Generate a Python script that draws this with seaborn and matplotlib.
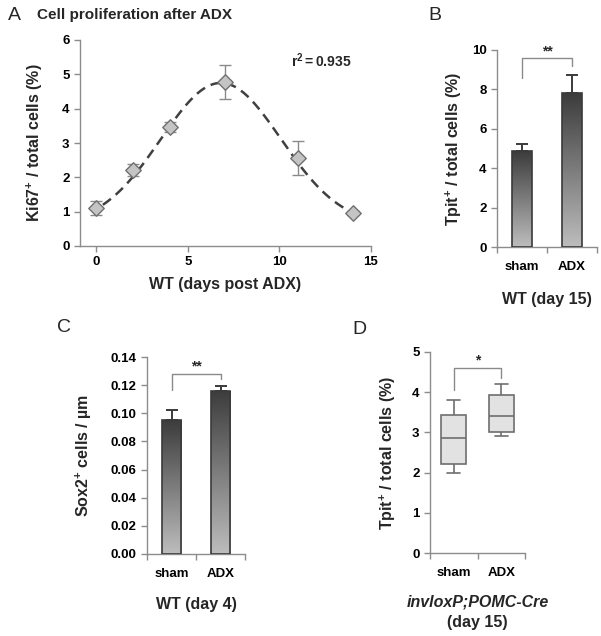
import numpy as np
import pandas as pd
import matplotlib
matplotlib.use('Agg')
import matplotlib.pyplot as plt
import seaborn as sns

sns.set_style('ticks')
plt.rcParams['font.family'] = ['Liberation Sans', 'DejaVu Sans']
plt.rcParams['mathtext.fontset'] = 'custom'
plt.rcParams['mathtext.rm'] = 'Liberation Sans'
plt.rcParams['mathtext.bf'] = 'Liberation Sans:bold'
plt.rcParams['mathtext.it'] = 'Liberation Sans:italic'

# ---- data ----
# A: Ki67+ time course
days = [0, 2, 4, 7, 11, 14]
ki67 = [1.10, 2.22, 3.47, 4.78, 2.57, 0.95]
ki67_err = [0.20, 0.18, 0.15, 0.50, 0.50, 0.06]
# gaussian fit: baseline, amplitude, centre, width
fit_base, fit_amp, fit_mu, fit_sigma = 0.6, 4.15, 6.8, 3.28
fit_range = (0.35, 14.0)
r2_text = r'$\mathbf{r^2 = 0.935}$'

# B: Tpit+ WT day 15
groups = ['sham', 'ADX']
tpit_b = [4.85, 7.80]
tpit_b_err = [0.40, 0.95]

# C: Sox2+ WT day 4
sox2 = [0.095, 0.116]
sox2_err = [0.0075, 0.0035]

# D: Tpit+ invloxP;POMC-Cre day 15 (min, q1, median, q3, max)
sham_five = [2.00, 2.22, 2.85, 3.43, 3.80]
adx_five = [2.90, 3.00, 3.40, 3.92, 4.20]

W, H = 601, 636
fig = plt.figure(figsize=(W / 100, H / 100), dpi=100)


def px_axes(x0, y0, x1, y1):
    return fig.add_axes([x0 / W, 1 - y1 / H, (x1 - x0) / W, (y1 - y0) / H])


SPINE = '#8c8c8c'
TICKFS = 9.5
LABFS = 11.5


def style_axes(ax):
    sns.despine(ax=ax)
    for s in ['left', 'bottom']:
        ax.spines[s].set_color(SPINE)
        ax.spines[s].set_linewidth(1.0)
    ax.tick_params(colors=SPINE, labelcolor='black', labelsize=TICKFS, length=4, width=1.0, direction='out')
    for lab in ax.get_xticklabels() + ax.get_yticklabels():
        lab.set_fontweight('bold')


def category_ticks(ax):
    ax.set_xlim(-0.5, 1.5)
    ax.set_xticks([0, 1])
    ax.set_xticklabels(groups, fontweight='bold', fontsize=TICKFS)
    ax.tick_params(axis='x', which='major', length=0, pad=10)
    ax.set_xticks([-0.5, 0.5, 1.5], minor=True)
    ax.tick_params(axis='x', which='minor', length=4, color=SPINE, width=1.0)


def gradient_bars(ax):
    grad = np.linspace(0, 1, 256).reshape(-1, 1)
    cmap = matplotlib.colors.LinearSegmentedColormap.from_list('g', ['#3c3c3c', '#bdbdbd'])
    for p in ax.patches:
        x0, y0 = p.get_x(), p.get_y()
        w, h = p.get_width(), p.get_height()
        p.set_facecolor('none')
        p.set_edgecolor('#3a3a3a')
        p.set_linewidth(1.2)
        p.set_zorder(3)
        im = ax.imshow(grad, cmap=cmap, aspect='auto', extent=(x0, x0 + w, y0, y0 + h),
                       origin='upper', zorder=2)
        im.set_clip_path(p)


def bracket(ax, x0, x1, ytop, yl, yr, star, ystar):
    ax.plot([x0, x0, x1, x1], [yl, ytop, ytop, yr], color='#8a8a8a', lw=1.0, zorder=4, clip_on=False)
    ax.text((x0 + x1) / 2, ystar, star, ha='center', va='center', fontsize=10, fontweight='bold')


# ---- A ----
axA = px_axes(80, 40, 371, 246)
xs = np.linspace(fit_range[0], fit_range[1], 300)
ys = fit_base + fit_amp * np.exp(-(xs - fit_mu) ** 2 / (2 * fit_sigma ** 2))
sns.lineplot(x=xs, y=ys, ax=axA, color='#404040', lw=1.8, linestyle=(0, (4, 2.5)), zorder=2)
axA.errorbar(days, ki67, yerr=ki67_err, fmt='none', ecolor='#8a8a8a', elinewidth=1.0, capsize=4, zorder=3)
sns.scatterplot(x=days, y=ki67, ax=axA, marker='D', s=62, color='#c4c4c4', edgecolor='#707070',
                linewidth=1.0, zorder=4)
axA.set_xlim(-0.9, 15)
axA.set_ylim(0, 6)
axA.set_xticks([0, 5, 10, 15])
axA.set_yticks(range(7))
style_axes(axA)
axA.set_xlabel('WT (days post ADX)', fontsize=LABFS, fontweight='bold', labelpad=6)
axA.set_ylabel(r'Ki67$^{\mathbf{+}}$ / total cells (%)', fontsize=LABFS, fontweight='bold', labelpad=12)
axA.text(0.725, 0.87, r2_text, transform=axA.transAxes, fontsize=10)

# ---- B ----
axB = px_axes(497, 50, 597, 247)
sns.barplot(x=groups, y=tpit_b, ax=axB, width=0.4, color='#888888')
gradient_bars(axB)
axB.errorbar([0, 1], tpit_b, yerr=[[0, 0], tpit_b_err], fmt='none', ecolor='#3a3a3a',
             elinewidth=1.4, capsize=4, capthick=1.4, zorder=1)
axB.set_ylim(0, 10)
axB.set_yticks(range(0, 11, 2))
style_axes(axB)
category_ticks(axB)
bracket(axB, 0, 1, 9.6, 8.6, 9.2, '**', 9.95)
axB.set_xlabel('WT (day 15)', fontsize=LABFS, fontweight='bold', labelpad=14)
axB.set_ylabel(r'Tpit$^{\mathbf{+}}$ / total cells (%)', fontsize=LABFS, fontweight='bold', labelpad=6)

# ---- C ----
axC = px_axes(147, 357, 245, 554)
sns.barplot(x=groups, y=sox2, ax=axC, width=0.4, color='#888888')
gradient_bars(axC)
axC.errorbar([0, 1], sox2, yerr=[[0, 0], sox2_err], fmt='none', ecolor='#3a3a3a',
             elinewidth=1.4, capsize=4, capthick=1.4, zorder=1)
axC.set_ylim(0, 0.14)
axC.set_yticks(np.arange(0, 0.141, 0.02))
axC.set_yticklabels([f'{v:.2f}' for v in np.arange(0, 0.141, 0.02)])
style_axes(axC)
category_ticks(axC)
bracket(axC, 0, 1, 0.128, 0.1164, 0.1246, '**', 0.1335)
axC.set_xlabel('WT (day 4)', fontsize=LABFS, fontweight='bold', labelpad=12)
axC.set_ylabel(r'Sox2$^{\mathbf{+}}$ cells / µm', fontsize=LABFS, fontweight='bold', labelpad=12)

# ---- D ----
axD = px_axes(430, 352, 525, 553)
box_df = pd.DataFrame({'group': ['sham'] * 5 + ['ADX'] * 5, 'value': sham_five + adx_five})
sns.boxplot(data=box_df, x='group', y='value', order=groups, ax=axD, width=0.53, color='#e2e2e2',
            linecolor='#6e6e6e', linewidth=1.2, whis=10, showfliers=False)
axD.set_ylim(0, 5)
axD.set_yticks(range(6))
style_axes(axD)
category_ticks(axD)
bracket(axD, 0, 1, 4.6, 4.05, 4.35, '*', 4.78)
axD.set_xlabel('')
axD.set_ylabel(r'Tpit$^{\mathbf{+}}$ / total cells (%)', fontsize=LABFS, fontweight='bold', labelpad=10)
axD.text(0.5, -0.245, 'invloxP;POMC-Cre', transform=axD.transAxes, ha='center', va='center',
         fontsize=LABFS, fontweight='bold', fontstyle='italic')
axD.text(0.5, -0.345, '(day 15)', transform=axD.transAxes, ha='center', va='center',
         fontsize=LABFS, fontweight='bold')

# ---- panel letters / title ----
fig.text(8 / W, 1 - 15 / H, 'A', fontsize=14, va='center', ha='left')
fig.text(37 / W, 1 - 15 / H, 'Cell proliferation after ADX', fontsize=11, fontweight='bold',
         va='center', ha='left')
fig.text(428 / W, 1 - 15 / H, 'B', fontsize=14, va='center', ha='left')
fig.text(57 / W, 1 - 328 / H, 'C', fontsize=14, va='center', ha='left')
fig.text(352 / W, 1 - 330 / H, 'D', fontsize=14, va='center', ha='left')

fig.savefig('out.png', dpi=100)
